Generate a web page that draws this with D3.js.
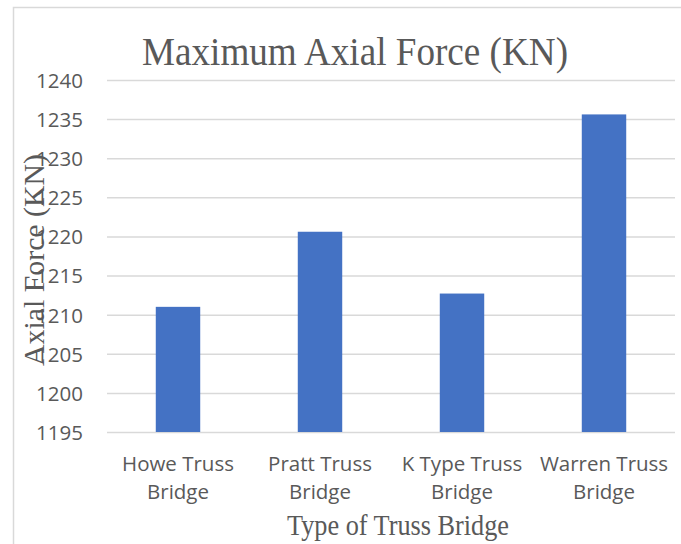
<!DOCTYPE html>
<html>
<head>
<meta charset="utf-8">
<script src="https://cdn.jsdelivr.net/npm/d3@7"></script>
<style>
  html, body { margin: 0; padding: 0; background: #fff; }
  svg { display: block; }
</style>
</head>
<body>
<svg id="chart" width="681" height="544"></svg>
<script>
const categories = [["Howe Truss", "Bridge"], ["Pratt Truss", "Bridge"], ["K Type Truss", "Bridge"], ["Warren Truss", "Bridge"]];
const values = [1211.0, 1220.6, 1212.7, 1235.6];
const yTicks = [1195, 1200, 1205, 1210, 1215, 1220, 1225, 1230, 1235, 1240];
const title = "Maximum Axial Force (KN)";
const xTitle = "Type of Truss Bridge";
const yTitle = "Axial Force (KN)";

const svg = d3.select("#chart");
const plot = { left: 107, right: 675, top: 80, bottom: 432 };
const serif = "'Liberation Serif', 'Times New Roman', serif";
const sans = "'Open Sans', sans-serif";

// chart border (cropped on right/bottom)
svg.append("rect").attr("x", 13.5).attr("y", 7.5).attr("width", 700).attr("height", 600)
  .attr("fill", "#fff").attr("stroke", "#d9d9d9").attr("stroke-width", 1.5);

const keys = categories.map(c => c.join(" "));
const x = d3.scaleBand().domain(keys).range([plot.left, plot.right])
  .paddingInner(0.687).paddingOuter(0.687 / 2);
const y = d3.scaleLinear().domain([1195, 1240]).range([plot.bottom, plot.top]);

// gridlines + y tick labels
const yAxis = d3.axisLeft(y).tickValues(yTicks).tickSize(-(plot.right - plot.left))
  .tickFormat(d3.format("d")).tickPadding(24);
const gy = svg.append("g").attr("transform", `translate(${plot.left},0)`).call(yAxis);
gy.select(".domain").remove();
gy.selectAll(".tick line").attr("stroke", "#d9d9d9").attr("stroke-width", 1.5);
gy.selectAll(".tick text").attr("fill", "#595959").attr("font-family", sans)
  .attr("font-size", 20.5).attr("dy", "0.36em");

// bars
svg.append("g").selectAll("rect").data(values).join("rect")
  .attr("x", (d, i) => x(keys[i]))
  .attr("y", d => y(d))
  .attr("width", x.bandwidth())
  .attr("height", d => y(1195) - y(d))
  .attr("fill", "#4472c4");

// x axis labels
const gx = svg.append("g").attr("transform", `translate(0,${plot.bottom})`)
  .call(d3.axisBottom(x).tickSize(0).tickFormat(""));
gx.select(".domain").remove();
gx.selectAll(".tick").each(function(d, i) {
  const t = d3.select(this).append("text")
    .attr("fill", "#595959").attr("font-family", sans)
    .attr("font-size", 20.5).attr("text-anchor", "middle");
  categories[i].forEach((line, j) => {
    t.append("tspan").attr("x", 0).attr("y", 39 + j * 28).text(line);
  });
});

// title
svg.append("text").attr("x", 355).attr("y", 65).attr("text-anchor", "middle")
  .attr("font-family", serif).attr("font-size", 40.5)
  .attr("textLength", 426).attr("lengthAdjust", "spacingAndGlyphs")
  .attr("fill", "#595959").text(title);

// x title
svg.append("text").attr("x", 398).attr("y", 535).attr("text-anchor", "middle")
  .attr("font-family", serif).attr("font-size", 30)
  .attr("textLength", 222).attr("lengthAdjust", "spacingAndGlyphs")
  .attr("fill", "#595959").text(xTitle);

// y title
svg.append("text").attr("transform", "translate(44,260) rotate(-90)").attr("text-anchor", "middle")
  .attr("font-family", serif).attr("font-size", 29)
  .attr("textLength", 212).attr("lengthAdjust", "spacingAndGlyphs")
  .attr("fill", "#595959").text(yTitle);
</script>
</body>
</html>
